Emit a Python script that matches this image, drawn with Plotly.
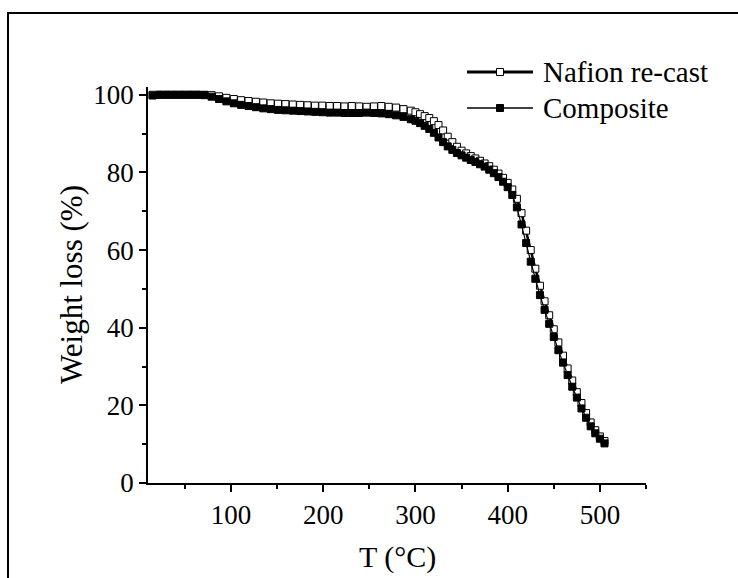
import plotly.graph_objects as go

temp_c = [15, 23, 31, 39, 47, 55, 63, 71, 79, 87, 95, 103, 111, 119, 127, 135, 143, 151,
          159, 167, 175, 183, 191, 199, 207, 215, 223, 231, 239, 247, 255, 263, 271, 279,
          287, 295, 300, 305, 310, 315, 320, 325, 330, 335, 340, 345, 350, 355, 360, 365,
          370, 375, 380, 385, 390, 395, 400, 405, 410, 415, 420, 425, 430, 435, 440, 445,
          450, 455, 460, 465, 470, 475, 480, 485, 490, 495, 500, 505]

nafion_recast = [100, 100, 100, 100, 100, 100, 100, 100, 99.9, 99.6, 99.2, 98.9, 98.6, 98.4,
                 98.2, 98.0, 97.8, 97.7, 97.6, 97.5, 97.4, 97.3, 97.2, 97.2, 97.1, 97.1, 97.0,
                 97.1, 97.0, 96.9, 97.0, 97.1, 96.9, 96.7, 96.3, 95.9,
                 95.5, 95.0, 94.5, 94.0, 93.2, 92.2, 90.8, 89.2, 87.8, 86.6, 85.6, 84.9, 84.2,
                 83.6, 83.0, 82.3, 81.6, 80.7, 79.7, 78.6, 77.3, 75.6, 73.2, 69.5, 65.0, 60.0,
                 55.2, 50.8, 46.8, 43.2, 39.6, 36.2, 32.8, 29.5, 26.4, 23.4, 20.6, 18.0, 15.6,
                 13.6, 12.0, 10.8]

composite = [99.8, 100, 100, 100, 100, 100, 100, 99.9, 99.5, 98.9, 98.3, 97.8, 97.4, 97.1,
             96.8, 96.5, 96.3, 96.1, 96.0, 95.9, 95.8, 95.7, 95.6, 95.5, 95.4, 95.4, 95.3,
             95.3, 95.3, 95.4, 95.3, 95.2, 95.0, 94.7, 94.3, 93.7,
             93.3, 92.7, 92.0, 91.2, 90.2, 89.0, 87.8, 86.7, 85.8, 85.0, 84.4, 83.8, 83.2,
             82.7, 82.1, 81.5, 80.7, 79.8, 78.8, 77.6, 76.2, 74.2, 71.0, 66.6, 61.8, 57.0,
             52.6, 48.4, 44.6, 41.0, 37.6, 34.2, 31.0, 27.8, 24.8, 22.0, 19.2, 16.8, 14.6,
             12.8, 11.4, 10.2]

series_names = ["Nafion re-cast", "Composite"]

FONT = "Liberation Serif, Times New Roman, serif"

styles = [
    dict(line_w=2.5, fill="white", legend_line_w=3.0),
    dict(line_w=1.2, fill="black", legend_line_w=1.5),
]

fig = go.Figure()
for name, vals, st in zip(series_names, [nafion_recast, composite], styles):
    fig.add_trace(go.Scatter(
        x=temp_c, y=vals, name=name, mode="lines+markers", showlegend=False,
        line=dict(color="black", width=st["line_w"]),
        marker=dict(symbol="square", size=7, color=st["fill"],
                    line=dict(color="black", width=1)),
    ))

# plot area in pixels: x 148..646, y 87..483
L, R, T, B = 148, 646, 87, 483
W, H = 738, 578
pw, ph = R - L, B - T


def px_x(p):
    return (p - L) / pw


def px_y(p):
    return (B - p) / ph


shapes = [dict(
    type="rect", xref="paper", yref="paper",
    x0=px_x(8), x1=px_x(760), y0=px_y(600), y1=px_y(13),
    line=dict(color="black", width=2), fillcolor="rgba(0,0,0,0)", layer="above",
)]
annotations = []

# legend drawn as key glyphs + text
legend_rows_y = [72, 108]
for name, st, ry in zip(series_names, styles, legend_rows_y):
    shapes.append(dict(
        type="line", xref="paper", yref="paper",
        x0=px_x(467), x1=px_x(533), y0=px_y(ry), y1=px_y(ry),
        line=dict(color="black", width=st["legend_line_w"]),
    ))
    shapes.append(dict(
        type="rect", xref="paper", yref="paper",
        x0=px_x(496.5), x1=px_x(503.5), y0=px_y(ry + 3.5), y1=px_y(ry - 3.5),
        line=dict(color="black", width=1), fillcolor=st["fill"],
    ))
    annotations.append(dict(
        text=name, xref="paper", yref="paper", x=px_x(541), y=px_y(ry),
        xanchor="left", yanchor="middle", showarrow=False,
        font=dict(family=FONT, size=29, color="black"),
    ))

# axis titles
annotations.append(dict(
    text="T (°C)", xref="paper", yref="paper", x=0.5, y=px_y(557),
    xanchor="center", yanchor="middle", showarrow=False,
    font=dict(family=FONT, size=30, color="black"),
))
annotations.append(dict(
    text="Weight loss (%)", xref="paper", yref="paper", x=px_x(71), y=0.5,
    xanchor="center", yanchor="middle", showarrow=False, textangle=-90,
    font=dict(family=FONT, size=31, color="black"),
))

fig.update_layout(
    width=W, height=H,
    margin=dict(l=L, r=W - R, t=T, b=H - B),
    paper_bgcolor="white", plot_bgcolor="white",
    font=dict(family=FONT, color="black", size=27),
    showlegend=False,
    shapes=shapes,
    annotations=annotations,
)

fig.update_xaxes(
    range=[10, 550], tick0=0, dtick=100, showgrid=False, zeroline=False,
    showline=True, linecolor="black", linewidth=1.5, automargin=False,
    ticks="outside", ticklen=7, tickwidth=1.5, tickcolor="black",
    minor=dict(tick0=0, dtick=50, ticks="outside", ticklen=4, tickwidth=1.5, tickcolor="black"),
    tickfont=dict(size=27, family=FONT),
)
fig.update_yaxes(
    range=[0, 102], tick0=0, dtick=20, showgrid=False, zeroline=False,
    showline=True, linecolor="black", linewidth=1.5, automargin=False,
    ticks="outside", ticklen=7, tickwidth=1.5, tickcolor="black",
    minor=dict(tick0=0, dtick=10, ticks="outside", ticklen=4, tickwidth=1.5, tickcolor="black"),
    tickfont=dict(size=27, family=FONT),
)

fig.write_html("out.html")
